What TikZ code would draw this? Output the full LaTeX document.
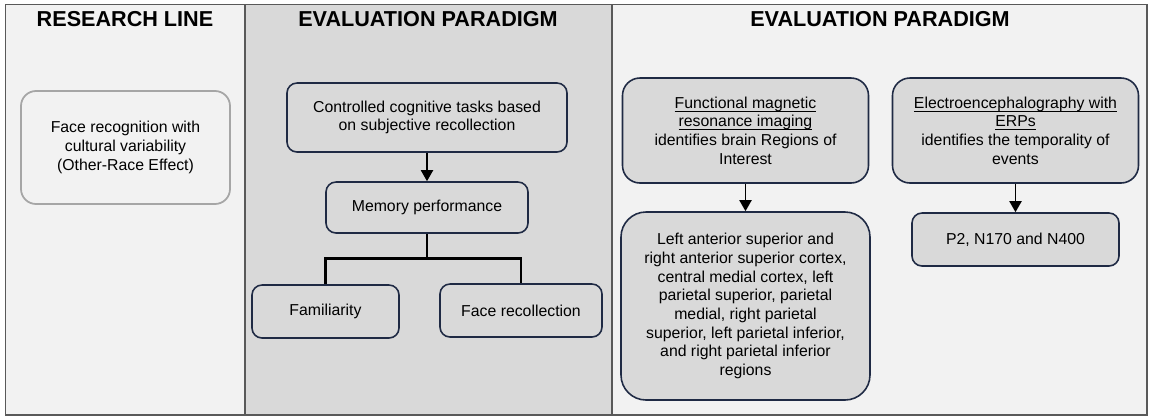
\documentclass[tikz,border=0pt]{standalone}
\usepackage{fontspec}
\setmainfont{Liberation Sans}
\usepackage{tikz}
\usetikzlibrary{arrows.meta,positioning}
\definecolor{panellight}{HTML}{F2F2F2}
\definecolor{paneldark}{HTML}{D9D9D9}
\definecolor{boxedge}{HTML}{1F2A44}
\definecolor{softedge}{HTML}{A6A6A6}
\definecolor{frameedge}{HTML}{595959}
% underline that sits just below the baseline
\newcommand{\ulined}[1]{%
  \setbox0\hbox{#1}\rlap{\rule[-1.9pt]{\wd0}{0.45pt}}\box0}
\tikzset{
  heading/.style={
    font=\bfseries\fontsize{12.3}{14}\selectfont,
    inner sep=0pt
  },
  stagebox/.style={
    rectangle,
    draw=boxedge,
    fill=paneldark,
    line width=0.9pt,
    rounded corners=2mm,
    align=center,
    inner sep=1pt,
    font=\fontsize{9}{10.6}\selectfont
  },
  linebox/.style={
    stagebox,
    draw=softedge,
    fill=panellight,
    line width=1pt,
    rounded corners=3mm
  },
  flow/.style={
    line width=1.1pt,
    -{Triangle[length=2.2mm,width=2.4mm]}
  },
  branch/.style={
    line width=1.6pt
  }
}

\begin{document}
\begin{tikzpicture}[x=0.2mm,y=-0.2mm]
  % keep the page at the size of the original figure
  \useasboundingbox (0,0) rectangle (1151,417);

  % Panels
  \fill[panellight] (5.5,4.5) rectangle (1147,415);
  \fill[paneldark] (245,4.5) rectangle (612,415);
  \draw[frameedge, line width=0.6pt] (5.5,4.5) rectangle (1147,415);
  \draw[frameedge, line width=0.6pt] (245,4.5) -- (245,415);
  \draw[frameedge, line width=0.6pt] (612,4.5) -- (612,415);

  \node[heading] (head-line) at (125,19) {RESEARCH LINE};
  \node[heading] (head-tasks) at (428,19) {EVALUATION PARADIGM};
  \node[heading] (head-neuro) at (880,19) {EVALUATION PARADIGM};

  % Research line
  \node[linebox, minimum width=41.8mm, minimum height=22.6mm] (ore) at (125.5,147.5)
    {Face recognition with\\cultural variability\\(Other-Race Effect)};

  % Behavioural paradigm
  \node[stagebox, minimum width=56mm, minimum height=13.8mm] (tasks) at (427,117.5)
    {Controlled cognitive tasks based\\on subjective recollection};
  \node[stagebox, minimum width=40.4mm, minimum height=10.2mm] (memory) at (427,207.5)
    {Memory performance};
  \node[stagebox, minimum width=29.4mm, minimum height=10.6mm] (famil) at (325.5,311.5)
    {Familiarity};
  \node[stagebox, minimum width=32.4mm, minimum height=10.6mm] (recoll) at (521,310.5)
    {Face recollection};

  \draw[flow] (tasks) -- (memory);
  \draw[branch] (memory.south) -- ++(0,25) coordinate (split);
  \draw[branch] (split) -| (famil.north);
  \draw[branch] (split) -| (recoll.north);

  % Neuroimaging paradigm
  \node[stagebox, rounded corners=3.5mm, minimum width=49.2mm, minimum height=21mm] (fmri) at (745.5,130.5)
    {\ulined{Functional magnetic}\\\ulined{resonance imaging}\\identifies brain Regions of\\Interest};
  \node[stagebox, rounded corners=3.5mm, minimum width=49.2mm, minimum height=21mm] (eeg) at (1015.5,130.5)
    {\ulined{Electroencephalography with}\\\ulined{ERPs}\\identifies the temporality of\\events};
  \node[stagebox, rounded corners=5mm, minimum width=49.8mm, minimum height=37.6mm] (rois) at (745.5,306)
    {Left anterior superior and\\right anterior superior cortex,\\central medial cortex, left\\parietal superior, parietal\\medial, right parietal\\superior, left parietal inferior,\\and right parietal inferior\\regions};
  \node[stagebox, minimum width=41.4mm, minimum height=10.6mm] (erps) at (1015.5,239.5)
    {P2, N170 and N400};

  \draw[flow] (fmri) -- (rois);
  \draw[flow] (eeg) -- (erps);
\end{tikzpicture}
\end{document}
